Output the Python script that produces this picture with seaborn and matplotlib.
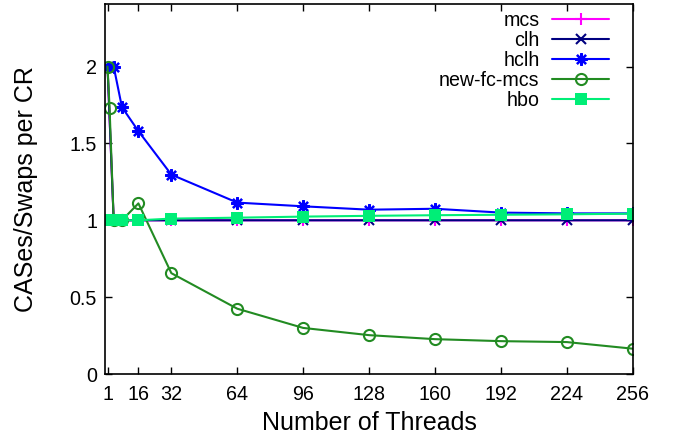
import matplotlib
matplotlib.use("Agg")
import matplotlib.pyplot as plt
import seaborn as sns
import pandas as pd

threads = [1, 4, 8, 16, 32, 64, 96, 128, 160, 192, 224, 256]
threads_fc = [1, 2, 4, 8, 16, 32, 64, 96, 128, 160, 192, 224, 256]

mcs = [2.0, 1.0, 1.0, 1.0, 1.0, 1.0, 1.0, 1.0, 1.0, 1.0, 1.0, 1.0]
clh = [2.0, 1.0, 1.0, 1.0, 1.0, 1.0, 1.0, 1.0, 1.0, 1.0, 1.0, 1.0]
hclh = [2.0, 2.0, 1.736, 1.58, 1.297, 1.115, 1.091, 1.069, 1.075, 1.05, 1.045, 1.045]
new_fc_mcs = [2.0, 1.73, 1.0, 1.0, 1.11, 0.656, 0.425, 0.30, 0.253, 0.227, 0.214, 0.208, 0.165]
hbo = [1.0, 1.0, 1.0, 1.0, 1.011, 1.017, 1.024, 1.029, 1.033, 1.036, 1.039, 1.043]

xticks = [1, 16, 32, 64, 96, 128, 160, 192, 224, 256]
yticks = [0, 0.5, 1, 1.5, 2]

sns.set_theme(style="ticks")
plt.rcParams['font.family'] = ['Liberation Sans', 'DejaVu Sans']
plt.rcParams['text.color'] = 'black'
plt.rcParams['axes.labelcolor'] = 'black'

fig = plt.figure(figsize=(6.76, 4.38), dpi=100)
ax = fig.add_axes([0.156, 0.146, 0.780, 0.846])

series = [
    ("mcs", threads, mcs, "#ff00ff", dict(marker="+", markersize=9, markeredgewidth=1.5)),
    ("clh", threads, clh, "#000080", dict(marker="x", markersize=7, markeredgewidth=1.5)),
    ("hclh", threads, hclh, "#0000ff", dict(marker=(8, 2, 0), markersize=9, markeredgewidth=1.6)),
    ("new-fc-mcs", threads_fc, new_fc_mcs, "#228b22",
     dict(marker="o", markersize=8, markerfacecolor="none", markeredgewidth=1.5)),
    ("hbo", threads, hbo, "#00ee77", dict(marker="s", markersize=8, markeredgewidth=0)),
]

for name, xs, ys, col, mk in series:
    df = pd.DataFrame({"x": xs, "y": ys})
    kw = dict(mk)
    if "markerfacecolor" not in kw:
        kw["markerfacecolor"] = col
    kw["markeredgecolor"] = col
    sns.lineplot(data=df, x="x", y="y", ax=ax, color=col, linewidth=1.5,
                 label=name, **kw)

ax.set_xlim(0, 256)
ax.set_ylim(0, 2.41)
ax.set_xticks(xticks)
ax.set_xticklabels([str(t) for t in xticks])
ax.set_yticks(yticks)
ax.set_yticklabels(["0", "0.5", "1", "1.5", "2"])
ax.tick_params(direction="in", length=5, width=1, labelsize=14.2,
               top=True, right=True, colors="black", pad=6)
ax.tick_params(axis="x", pad=8)
ax.set_xlabel("Number of Threads", fontsize=18, labelpad=5, color="black")
ax.set_ylabel("CASes/Swaps per CR", fontsize=18, labelpad=23, color="black")
for s in ax.spines.values():
    s.set_color("black")
    s.set_linewidth(1.2)

leg = ax.legend(loc="upper right", frameon=False, markerfirst=False,
                fontsize=14.1, handlelength=2.9, handletextpad=0.65,
                labelspacing=0.05, borderaxespad=0.0,
                bbox_to_anchor=(0.97, 1.0))
for t in leg.get_texts():
    t.set_color("black")

fig.savefig("out.png", dpi=100)
